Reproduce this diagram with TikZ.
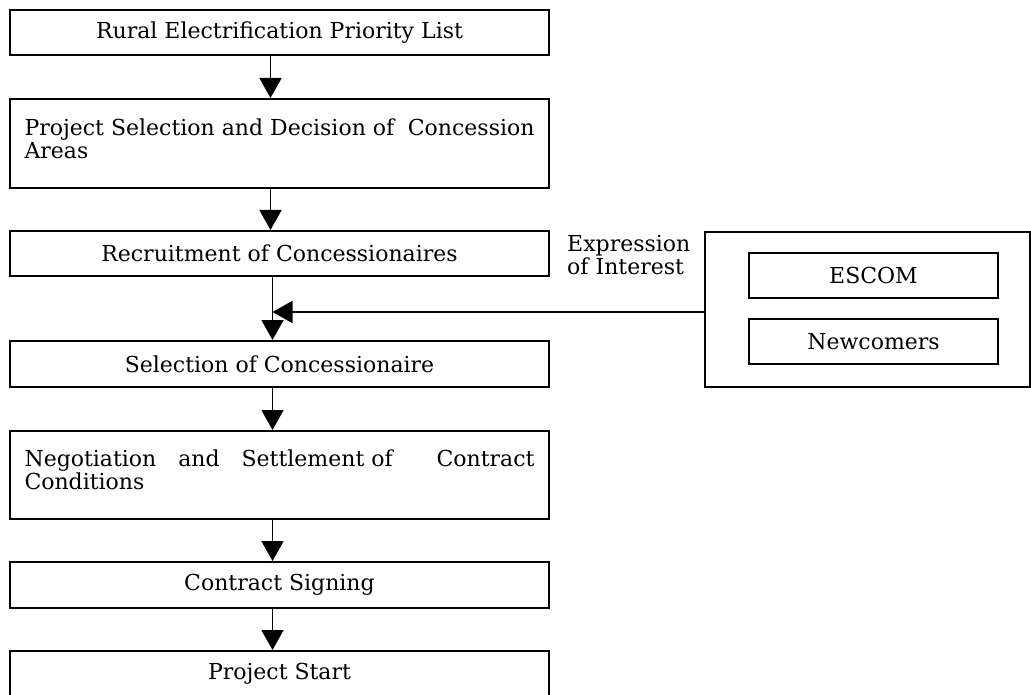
\documentclass[tikz,border=0pt]{standalone}
\usepackage{fontspec}
\setmainfont{DejaVu Serif}
\usetikzlibrary{arrows.meta}

\newcommand{\boxfont}{\fontsize{22}{23}\selectfont}
\newcommand{\toptext}[1]{\parbox[c][50pt][t]{510pt}{#1}}

\begin{document}
\begin{tikzpicture}[x=1pt, y=-1pt,
        stepbox/.style={draw, line width=2pt, minimum width=539pt, minimum height=45pt, inner sep=0pt, font=\boxfont},
        tallbox/.style={stepbox, minimum height=89pt},
        flow/.style={-{Triangle[length=20pt,width=22pt]}, line width=1.8pt}]

        \useasboundingbox (0,0) rectangle (1031,695);

        % main steps
        \node[stepbox] (rural) at (279.5,33) {Rural Electrification Priority List};
        \node[tallbox] (select) at (279.5,143.5) {\toptext{Project Selection and Decision of\hfill Concession\\Areas}};
        \node[stepbox] (recruit) at (279.5,253.5) {Recruitment of Concessionaires};
        \node[stepbox, minimum height=46pt] (choose) at (279.5,364) {Selection of Concessionaire};
        \node[tallbox, minimum height=88pt] (negotiate) at (279.5,475) {\toptext{Negotiation\hfill and\hfill Settlement of\hfill\hfill Contract\\Conditions}};
        \node[stepbox, minimum height=46pt] (sign) at (279.5,585) {Contract Signing};
        \node[stepbox] (start) at (279.5,673.5) {Project Start};

        % applicants
        \node[draw, line width=2pt, minimum width=325pt, minimum height=155pt] (pool) at (867.5,309.5) {};
        \node[stepbox, minimum width=249pt] (escom) at (873.5,275.5) {ESCOM};
        \node[stepbox, minimum width=249pt] (newcomer) at (873.5,341.5) {Newcomers};
        \node[anchor=north west, inner sep=0pt, align=left, font=\boxfont] (interest) at (567,235) {Expression\\of Interest};

        % arrows
        \coordinate (join) at ([xshift=-7pt]recruit.south);
        \draw[flow] ([xshift=-9pt]rural.south) -- ([xshift=-9pt]select.north);
        \draw[flow] ([xshift=-9pt]select.south) -- ([xshift=-9pt]recruit.north);
        \draw[flow] ([xshift=-7pt]recruit.south) -- ([xshift=-7pt]choose.north);
        \draw[flow] ([xshift=-7pt]choose.south) -- ([xshift=-7pt]negotiate.north);
        \draw[flow] ([xshift=-7pt]negotiate.south) -- ([xshift=-7pt]sign.north);
        \draw[flow] ([xshift=-7pt]sign.south) -- ([xshift=-7pt]start.north);
        \draw[flow] ([yshift=-2.5pt]pool.west) -- ([yshift=-2.5pt]pool.west -| join);
\end{tikzpicture}
\end{document}
